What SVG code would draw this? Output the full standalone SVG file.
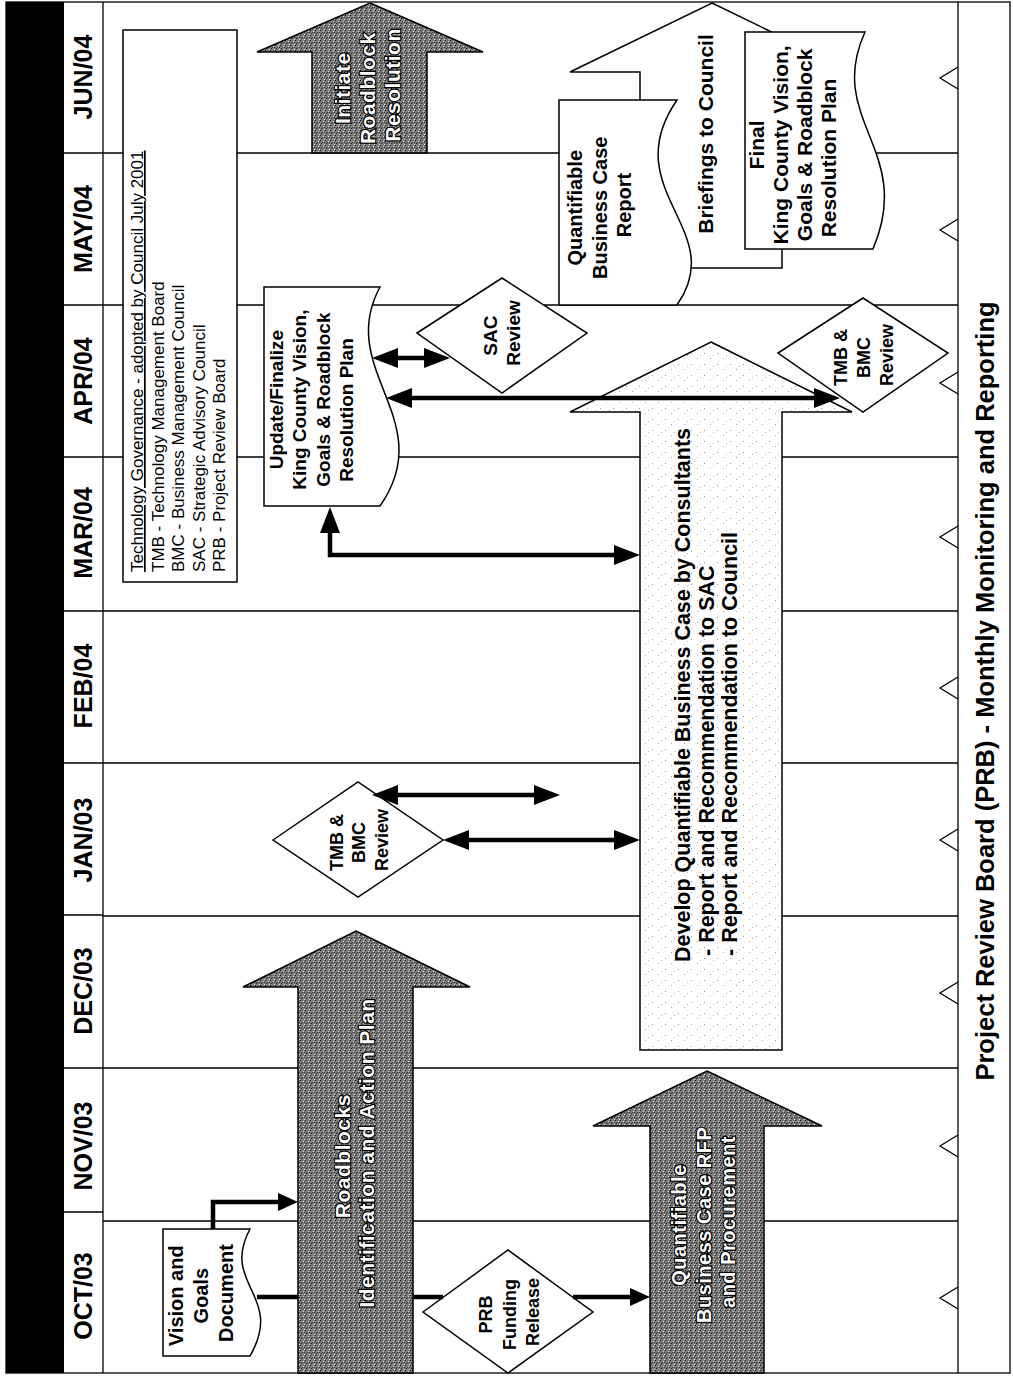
<svg xmlns="http://www.w3.org/2000/svg" width="1013" height="1376" viewBox="0 0 1013 1376">
<style>
.t{font-family:"Liberation Sans",Arial,sans-serif;fill:#000}
.b{font-weight:bold}
.ln{stroke:#000;stroke-width:1.3;fill:none}
.sh{stroke:#000;stroke-width:1.5;fill:#fff}
.dk{stroke:#000;stroke-width:1.5;fill:url(#dark)}
.lt{stroke:#000;stroke-width:1.5;fill:url(#light)}
.wt{font-family:"Liberation Sans",Arial,sans-serif;font-weight:bold;fill:#fff;stroke:#000;stroke-width:2.4;paint-order:stroke fill;letter-spacing:0.5px}
.conn{stroke:#000;stroke-width:4.5;fill:none}
.mk{fill:none;stroke:#000;stroke-width:1.3}
</style>
<defs>
<pattern id="dark" width="5" height="5" patternUnits="userSpaceOnUse">
<rect width="5" height="5" fill="#7c7c7c"/>
<rect x="0" y="0" width="1" height="1" fill="#111"/>
<rect x="3" y="1" width="1" height="1" fill="#d8d8d8"/>
<rect x="1" y="3" width="1" height="1" fill="#222"/>
<rect x="4" y="4" width="1" height="1" fill="#e8e8e8"/>
<rect x="2" y="2" width="1" height="1" fill="#444"/>
<rect x="4" y="2" width="1" height="1" fill="#333"/>
</pattern>
<pattern id="light" width="13" height="11" patternUnits="userSpaceOnUse">
<rect width="13" height="11" fill="#fff"/>
<rect x="2" y="1" width="1" height="1" fill="#999"/>
<rect x="8" y="6" width="1" height="1" fill="#aaa"/>
<rect x="11" y="3" width="1" height="1" fill="#bbb"/>
</pattern>
<marker id="ah" viewBox="0 0 26 20" refX="18" refY="10" markerWidth="26" markerHeight="20" markerUnits="userSpaceOnUse" orient="auto-start-reverse"><path d="M0,0 L26,10 L0,20 Z" fill="#000"/></marker>
<marker id="ahs" viewBox="0 0 20 18" refX="12" refY="9" markerWidth="20" markerHeight="18" markerUnits="userSpaceOnUse" orient="auto-start-reverse"><path d="M0,0 L20,9 L0,18 Z" fill="#000"/></marker>
</defs>

<rect width="1013" height="1376" fill="#fff"/>

<g id="frame">
<rect x="6" y="2" width="58" height="1371" fill="#000"/>
<rect x="6" y="2" width="1004" height="1371" class="ln"/>
<line x1="103" y1="2" x2="103" y2="1373" class="ln"/>
<line x1="958" y1="2" x2="958" y2="1373" class="ln"/>
<path class="ln" d="M64,153H103M64,305H103M64,457H103M64,611H103M64,763H103M64,915H103M64,1068H103M64,1212H103"/>
<path class="ln" d="M103,153H958M103,305H958M103,457H958M103,611H958M103,763H958M103,916H958M103,1068H958M103,1221H958"/>
</g>

<g id="months" class="t b" font-size="25" text-anchor="middle">
<text transform="translate(92,77) rotate(-90)">JUN/04</text>
<text transform="translate(92,229) rotate(-90)">MAY/04</text>
<text transform="translate(92,381) rotate(-90)">APR/04</text>
<text transform="translate(92,533) rotate(-90)">MAR/04</text>
<text transform="translate(92,686) rotate(-90)">FEB/04</text>
<text transform="translate(92,840) rotate(-90)">JAN/03</text>
<text transform="translate(92,991) rotate(-90)">DEC/03</text>
<text transform="translate(92,1146) rotate(-90)">NOV/03</text>
<text transform="translate(92,1296) rotate(-90)">OCT/03</text>
</g>

<g id="prb-monitoring">
<path class="mk" d="M958,67L940,78L958,89M958,219L940,230L958,241M958,372L940,383L958,394M958,526L940,537L958,548M958,677L940,688L958,699M958,829L940,840L958,851M958,982L940,993L958,1004M958,1135L940,1146L958,1157M958,1287L940,1298L958,1309"/>
<text class="t b" font-size="25.5" text-anchor="middle" transform="translate(994,691) rotate(-90)">Project Review Board (PRB) - Monthly Monitoring and Reporting</text>
</g>

<g id="governance-legend">
<rect x="123" y="30" width="114" height="552" class="sh"/>
<text class="t" font-size="17" transform="translate(143,572) rotate(-90)">
<tspan x="0" y="0" text-decoration="underline">Technology Governance - adopted by Council July 2001</tspan>
<tspan x="0" y="20.5">TMB - Technology Management Board</tspan>
<tspan x="0" y="41">BMC - Business Management Council</tspan>
<tspan x="0" y="61.5">SAC - Strategic Advisory Council</tspan>
<tspan x="0" y="82">PRB - Project Review Board</tspan>
</text>
</g>

<g id="develop-business-case">
<polygon class="lt" points="711,342 852,412 782,412 782,1050 640,1050 640,412 570,412"/>
<text class="t b" font-size="21.5" transform="translate(690,962) rotate(-90)">
<tspan x="0" y="0">Develop Quantifiable Business Case by Consultants</tspan>
<tspan x="6" y="24">- Report and Recommendation to SAC</tspan>
<tspan x="6" y="47">- Report and Recommendation to Council</tspan>
</text>
</g>

<g id="briefings-to-council">
<polygon class="sh" points="712,3 854,72 782,72 782,268 640,268 640,72 570,72"/>
<text class="t b" font-size="21" text-anchor="middle" transform="translate(713,134) rotate(-90)">Briefings to Council</text>
</g>

<g id="business-case-report">
<path class="sh" d="M559,100H677C615,190 730,230 677,305H559Z"/>
<text class="t b" font-size="20" text-anchor="middle" transform="translate(582,205) rotate(-90)">
<tspan x="0" y="0">Quantifiable</tspan>
<tspan x="0" y="25">Business Case</tspan>
<tspan x="0" y="49">Report</tspan>
</text>
</g>

<g id="final-plan">
<path class="sh" d="M745,32H865C825,120 915,150 873,249H745Z"/>
<text class="t b" font-size="21" text-anchor="middle" transform="translate(764,142) rotate(-90)">
<tspan x="0" y="0">Final</tspan>
<tspan x="0" y="24">King County Vision,</tspan>
<tspan x="0" y="48">Goals &amp; Roadblock</tspan>
<tspan x="-16" y="72">Resolution Plan</tspan>
</text>
</g>

<g id="update-plan">
<path class="sh" d="M264,287H380C335,370 440,420 380,506H264Z"/>
<text class="t b" font-size="19" text-anchor="middle" transform="translate(283,397) rotate(-90)">
<tspan x="0" y="0">Update/Finalize</tspan>
<tspan x="0" y="23">King County Vision,</tspan>
<tspan x="0" y="47">Goals &amp; Roadblock</tspan>
<tspan x="-13" y="70">Resolution Plan</tspan>
</text>
</g>

<g id="vision-goals-document">
<path class="sh" d="M163,1229H250C220,1285 285,1295 250,1356H163Z"/>
<text class="t b" font-size="20" text-anchor="middle" transform="translate(183,1293) rotate(-90)">
<tspan x="0" y="0">Vision and</tspan>
<tspan x="0" y="25">Goals</tspan>
<tspan x="0" y="50">Document</tspan>
</text>
</g>

<g id="prb-funding-release">
<polygon class="sh" points="423,1312 508,1250 593,1312 508,1373"/>
<text class="t b" font-size="18" text-anchor="middle" transform="translate(492,1312) rotate(-90)">
<tspan x="0" y="0">PRB</tspan>
<tspan x="0" y="24">Funding</tspan>
<tspan x="0" y="47">Release</tspan>
</text>
</g>

<g id="tmb-bmc-review-jan">
<polygon class="sh" points="273,840 358,782 443,840 358,897"/>
<text class="t b" font-size="18" text-anchor="middle" transform="translate(343,840) rotate(-90)">
<tspan x="0" y="0">TMB &amp;</tspan>
<tspan x="0" y="22">BMC</tspan>
<tspan x="0" y="45">Review</tspan>
</text>
</g>

<g id="sac-review">
<polygon class="sh" points="417,333 502,278 587,333 502,393"/>
<text class="t b" font-size="19" text-anchor="middle" transform="translate(497,333) rotate(-90)">
<tspan x="0" y="0">SAC</tspan>
<tspan x="0" y="23">Review</tspan>
</text>
</g>

<g id="tmb-bmc-review-apr">
<polygon class="sh" points="778,353 863,298 948,353 863,412"/>
<text class="t b" font-size="18" text-anchor="middle" transform="translate(847,355) rotate(-90)">
<tspan x="0" y="0">TMB &amp;</tspan>
<tspan x="0" y="23">BMC</tspan>
<tspan x="0" y="46">Review</tspan>
</text>
</g>

<g id="connectors" class="conn">
<path d="M213,1229V1202H290" marker-end="url(#ahs)"/>
<path d="M257,1297H443"/>
<path d="M573,1297H642" marker-end="url(#ahs)"/>
<path d="M380,795H552" marker-start="url(#ah)" marker-end="url(#ah)"/>
<path d="M451,840H632" marker-start="url(#ah)" marker-end="url(#ah)"/>
<path d="M330,515V555H632" marker-start="url(#ah)" marker-end="url(#ah)"/>
<path d="M380,358H442" marker-start="url(#ah)" marker-end="url(#ah)"/>
<path d="M394,398H832" marker-start="url(#ah)" marker-end="url(#ah)"/>
</g>

<g id="initiate-roadblock-resolution">
<polygon class="dk" points="370,3 483,52 427,52 427,153 312,153 312,52 257,52"/>
<text class="wt" font-size="21" text-anchor="middle" transform="translate(350,85) rotate(-90)">
<tspan x="0" y="0">Initiate</tspan>
<tspan x="0" y="25">Roadblock</tspan>
<tspan x="0" y="50">Resolution</tspan>
</text>
</g>

<g id="roadblocks-identification">
<polygon class="dk" points="356,931 470,987 413,987 413,1373 298,1373 298,987 243,987"/>
<text class="wt" font-size="21" text-anchor="middle" transform="translate(350,1153) rotate(-90)">
<tspan x="0" y="0">Roadblocks</tspan>
<tspan x="0" y="24">Identification and Action Plan</tspan>
</text>
</g>

<g id="business-case-rfp">
<polygon class="dk" points="707,1071 822,1126 764,1126 764,1373 650,1373 650,1126 593,1126"/>
<text class="wt" font-size="20" text-anchor="middle" transform="translate(686,1222) rotate(-90)">
<tspan x="0" y="0">Quantifiable</tspan>
<tspan x="0" y="25">Business Case RFP</tspan>
<tspan x="0" y="49">and Procurement</tspan>
</text>
</g>
</svg>
